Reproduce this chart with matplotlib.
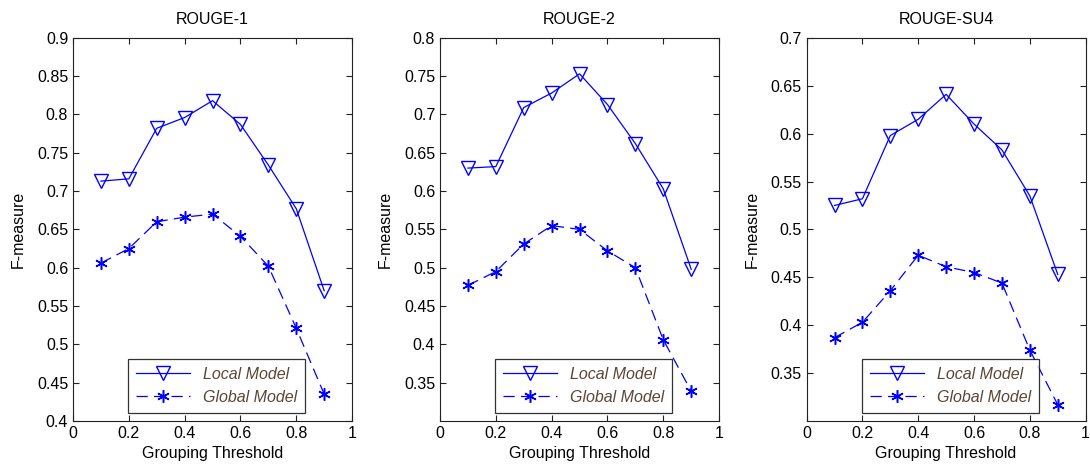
import numpy as np
import matplotlib.pyplot as plt

plt.rcParams['font.family'] = ['Liberation Sans', 'DejaVu Sans']

thresholds = [0.1, 0.2, 0.3, 0.4, 0.5, 0.6, 0.7, 0.8, 0.9]
titles = ['ROUGE-1', 'ROUGE-2', 'ROUGE-SU4']

local_r1 = [0.713, 0.716, 0.782, 0.796, 0.818, 0.787, 0.734, 0.677, 0.570]
global_r1 = [0.606, 0.625, 0.660, 0.666, 0.670, 0.641, 0.602, 0.521, 0.435]
local_r2 = [0.630, 0.632, 0.709, 0.728, 0.753, 0.713, 0.662, 0.603, 0.498]
global_r2 = [0.477, 0.495, 0.531, 0.555, 0.550, 0.522, 0.500, 0.406, 0.339]
local_su4 = [0.525, 0.532, 0.598, 0.615, 0.641, 0.610, 0.583, 0.535, 0.453]
global_su4 = [0.387, 0.403, 0.436, 0.473, 0.461, 0.455, 0.444, 0.374, 0.317]

ylims = [(0.4, 0.9), (0.3, 0.8), (0.3, 0.7)]
yticks = [np.arange(0.4, 0.901, 0.05), np.arange(0.35, 0.801, 0.05), np.arange(0.35, 0.701, 0.05)]
local_all = [local_r1, local_r2, local_su4]
global_all = [global_r1, global_r2, global_su4]

fig = plt.figure(figsize=(10.9, 4.73), dpi=100)
lefts = [0.067, 0.4037, 0.740]
fs = 11.5

for i in range(3):
    ax = fig.add_axes([lefts[i], 0.110, 0.256, 0.810])
    ax.plot(thresholds, local_all[i], color='blue', linewidth=0.9, marker='v',
            markersize=9.5, markerfacecolor='none', markeredgecolor='blue', label='Local Model')
    ax.plot(thresholds, global_all[i], color='blue', linewidth=0.9, linestyle=(0, (9, 5)),
            marker=(6, 2, 0), markersize=9, markeredgewidth=1.1, label='Global Model')
    ax.set_xlim(0, 1)
    ax.set_ylim(*ylims[i])
    ax.set_xticks([0, 0.2, 0.4, 0.6, 0.8, 1])
    ax.set_xticklabels(['0', '0.2', '0.4', '0.6', '0.8', '1'])
    ax.set_yticks(yticks[i])
    ax.set_yticklabels(['%g' % round(v, 2) for v in yticks[i]])
    ax.tick_params(direction='in', top=True, right=True, labelsize=fs, length=4, color='#222222')
    for s in ax.spines.values():
        s.set_linewidth(0.8)
        s.set_color('#222222')
    ax.set_title(titles[i], fontsize=fs, pad=10)
    ax.set_xlabel('Grouping Threshold', fontsize=fs)
    ax.set_ylabel('F-measure', fontsize=fs, labelpad=8)
    leg = ax.legend(loc='lower left', bbox_to_anchor=(0.197, 0.021), fancybox=False,
                    edgecolor='black', handlelength=3.4, borderpad=0.5, borderaxespad=0,
                    prop={'style': 'italic', 'size': fs})
    leg.get_frame().set_linewidth(0.9)
    for t in leg.get_texts():
        t.set_color('#5a4636')

plt.savefig('out.png', dpi=100)
